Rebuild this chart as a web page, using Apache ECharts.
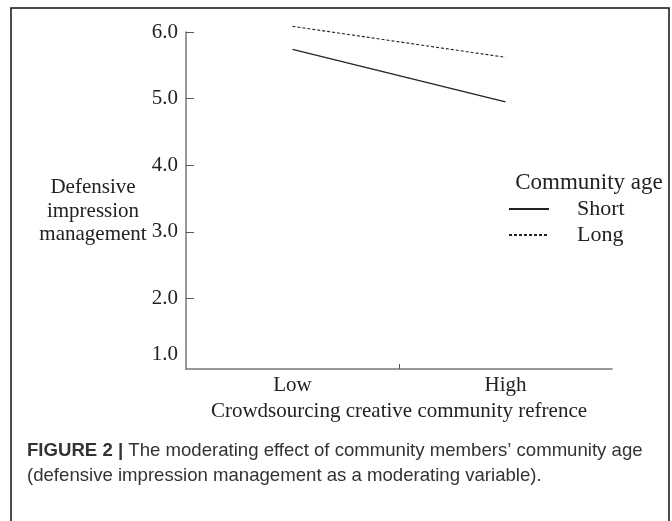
<!DOCTYPE html>
<html><head><meta charset="utf-8">
<script src="https://cdn.jsdelivr.net/npm/echarts@6/dist/echarts.min.js"></script>
<style>html,body{margin:0;padding:0;background:#fff}#c{width:672px;height:521px}</style>
</head><body><div id="c"></div>
<script>
const categories = ['Low', 'High'];
const seriesNames = ['Short', 'Long'];
const shortValues = [5.74, 4.95];
const longValues = [6.085, 5.62];
const yLabelValues = [1, 2, 3, 4, 5, 6];
const yTickValues = [2, 3, 4, 5, 6];
const legendTitle = 'Community age';
const yAxisTitle = 'Defensive\nimpression\nmanagement';
const xAxisTitle = 'Crowdsourcing creative community refrence';
const captionBold = 'FIGURE 2 |';
const captionLine1 = ' The moderating effect of community members\u2019 community age';
const captionLine2 = '(defensive impression management as a moderating variable).';

const serif = '"Liberation Serif", "DejaVu Serif", serif';
const sans = '"Liberation Sans", Arial, sans-serif';
const toPoints = vals => vals.map((v, i) => [i + 0.5, v]);
const chart = echarts.init(document.getElementById('c'), null, {renderer: 'canvas'});
chart.setOption({
  animation: false,
  backgroundColor: '#fff',
  title: [
    {text: legendTitle, left: 584, top: 166, textAlign: 'center',
     textStyle: {fontFamily: serif, fontSize: 23, fontWeight: 'normal', color: '#222'}},
    {text: yAxisTitle, left: 88, top: 171, textAlign: 'center',
     textStyle: {fontFamily: serif, fontSize: 21, fontWeight: 'normal', color: '#222', lineHeight: 23.5, align: 'center'}},
    {text: '{b|' + captionBold + '}{n|' + captionLine1 + '}\n{n|' + captionLine2 + '}',
     left: 22, top: 433,
     textStyle: {fontWeight: 'normal', rich: {
       b: {fontFamily: sans, fontSize: 18.6, fontWeight: 'bold', color: '#333', lineHeight: 25},
       n: {fontFamily: sans, fontSize: 18.6, fontWeight: 'normal', color: '#333', lineHeight: 25}
     }}}
  ],
  legend: {
    orient: 'vertical', left: 503, top: 193,
    itemWidth: 40, itemHeight: 14, itemGap: 4,
    data: seriesNames,
    itemStyle: {opacity: 0},
    textStyle: {fontFamily: serif, fontSize: 22, color: '#222', padding: [0, 0, 0, 23]}
  },
  grid: {left: 186, right: 60, top: 32, bottom: 152, containLabel: false},
  xAxis: {
    type: 'value', min: 0, max: categories.length,
    splitLine: {show: false},
    axisLine: {lineStyle: {color: '#777', width: 1.5}},
    axisTick: {show: true, inside: true, length: 5, customValues: [1], lineStyle: {color: '#555', width: 1}},
    axisLabel: {fontFamily: serif, fontSize: 21, color: '#222', margin: 6,
      customValues: categories.map((c, i) => i + 0.5),
      formatter: function (v) { return categories[Math.floor(v)] || ''; }},
    name: xAxisTitle, nameLocation: 'middle', nameGap: 32,
    nameTextStyle: {fontFamily: serif, fontSize: 21, color: '#222'}
  },
  yAxis: {
    type: 'value', min: 0.94, max: 6,
    splitLine: {show: false},
    axisLine: {show: true, lineStyle: {color: '#777', width: 1.5}},
    axisTick: {show: true, inside: true, length: 8, customValues: yTickValues, lineStyle: {color: '#555', width: 1}},
    axisLabel: {fontFamily: serif, fontSize: 21, color: '#222', margin: 8,
      customValues: yLabelValues,
      formatter: function (v) { return v === 1 ? '{low|1.0}' : v.toFixed(1); },
      rich: {low: {fontFamily: serif, fontSize: 21, color: '#222', padding: [0, 0, 22, 0]}}}
  },
  series: [
    {name: seriesNames[0], type: 'line', data: toPoints(shortValues), symbol: 'none', clip: false,
     lineStyle: {color: '#222', width: 1.2, type: 'solid'}, itemStyle: {color: '#222'}},
    {name: seriesNames[1], type: 'line', data: toPoints(longValues), symbol: 'none', clip: false,
     lineStyle: {color: '#222', width: 1.1, type: [3, 2]}, itemStyle: {color: '#222'}}
  ],
  graphic: [{
    type: 'polyline', silent: true,
    shape: {points: [[11, 521], [11, 8], [669, 8], [669, 521]]},
    style: {stroke: '#111', lineWidth: 1.5, fill: null}
  }]
});
</script></body></html>
